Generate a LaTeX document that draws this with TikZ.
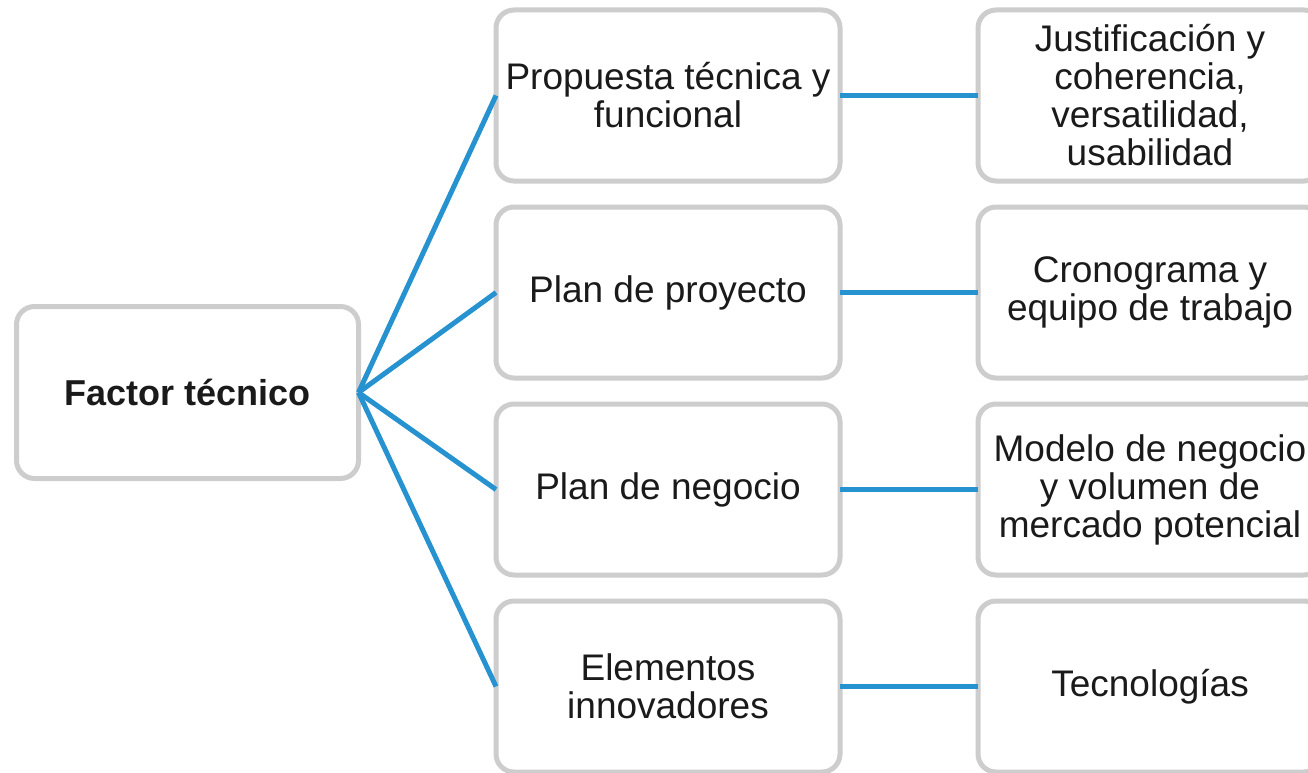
\documentclass[tikz,border=0pt]{standalone}
\usepackage{fontspec}
\setmainfont{Liberation Sans}
\definecolor{boxgray}{HTML}{CDCDCD}
\definecolor{linkblue}{HTML}{2692CF}
\definecolor{txt}{HTML}{1A1A1A}
\begin{document}
\begin{tikzpicture}[x=1pt,y=-1pt,
  box/.style={rectangle,rounded corners=18pt,draw=boxgray,fill=white,line width=5pt,
    minimum width=344pt,minimum height=171pt,inner sep=0pt,outer sep=0pt,align=center,
    text=txt,font=\fontsize{37}{38}\selectfont},
  rootbox/.style={box,minimum width=342pt,minimum height=172pt,font=\fontsize{36}{38}\selectfont\bfseries},
  link/.style={draw=linkblue,line width=5pt}]
\useasboundingbox (0,0) rectangle (1308,773);
\clip (0,0) rectangle (1308,773);
\node[rootbox] (root) at (187.5,392.5) {Factor técnico};
\node[box] (m1) at (668,95.5) {Propuesta técnica y\\funcional};
\node[box] (m2) at (668,292.5) {Plan de proyecto};
\node[box] (m3) at (668,489.5) {Plan de negocio};
\node[box] (m4) at (668,686.5) {Elementos\\innovadores};
\node[box] (r1) at (1150,95.5) {Justificación y\\coherencia,\\versatilidad,\\usabilidad};
\node[box] (r2) at (1150,292.5) {Cronograma y\\equipo de trabajo};
\node[box] (r3) at (1150,489.5) {Modelo de negocio\\y volumen de\\mercado potencial};
\node[box] (r4) at (1150,686.5) {Tecnologías};
\foreach \m in {m1,m2,m3,m4}{\draw[link] (root.east) -- (\m.west);}
\draw[link] (m1.east) -- (r1.west);
\draw[link] (m2.east) -- (r2.west);
\draw[link] (m3.east) -- (r3.west);
\draw[link] (m4.east) -- (r4.west);
\end{tikzpicture}
\end{document}
